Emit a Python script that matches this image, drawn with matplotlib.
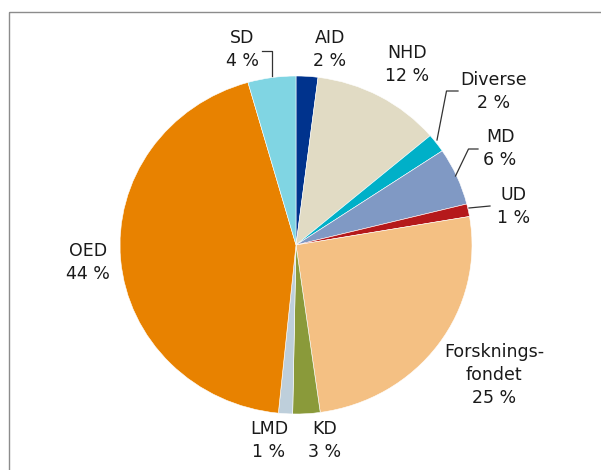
import matplotlib
matplotlib.use("Agg")
import matplotlib.pyplot as plt
from matplotlib.patches import Rectangle

categories = ["AID", "NHD", "Diverse", "MD", "UD", "Forsknings-\nfondet", "KD", "LMD", "OED", "SD"]
values = [2.0, 11.8, 1.8, 5.5, 1.2, 25.5, 2.5, 1.3, 44.0, 4.4]
pct_labels = [2, 12, 2, 6, 1, 25, 3, 1, 44, 4]
colors = ["#00338D", "#E1DBC4", "#00B0C8", "#8099C4", "#B5191B", "#F4C083",
          "#8A9A3A", "#BECFDB", "#E88200", "#80D5E3"]

W, H = 601, 470
fig = plt.figure(figsize=(W / 100, H / 100), dpi=100)

# pie bounding box in pixels
left, right, top, bottom = 120, 472, 76, 414
ax = fig.add_axes([left / W, (H - bottom) / H, (right - left) / W, (bottom - top) / H])
ax.pie(values, colors=colors, startangle=90, counterclock=False,
       wedgeprops=dict(edgecolor="white", linewidth=0.4))
ax.set_aspect("auto")
ax.set_xlim(-1, 1)
ax.set_ylim(-1, 1)
ax.axis("off")

# overlay in pixel coordinates
ov = fig.add_axes([0, 0, 1, 1], zorder=5)
ov.set_xlim(0, W)
ov.set_ylim(H, 0)
ov.axis("off")
ov.patch.set_alpha(0)
ov.add_patch(Rectangle((8.5, 11.5), 700, 600, fill=False, edgecolor="#8c8c8c", linewidth=1))

label_pos = {
    "AID": (330, 38), "NHD": (407, 53), "Diverse": (494, 80), "MD": (500, 137),
    "UD": (514, 195), "Forsknings-\nfondet": (494, 352), "KD": (325, 429),
    "LMD": (269, 429), "OED": (88, 251), "SD": (242, 38),
}
line_h = 23
txtc = "#1a1a1a"
for cat, p in zip(categories, pct_labels):
    x, y = label_pos[cat]
    lines = cat.split("\n") + [f"{p} %"]
    for i, s in enumerate(lines):
        ov.text(x, y + i * line_h, s, ha="center", va="center", fontsize=12.5,
                color=txtc, family="DejaVu Sans")

# leader lines
leaders = [
    [(262, 51), (272, 51), (272, 76)],
    [(458, 91), (446.5, 91), (437, 140)],
    [(478, 149), (468.5, 149), (455.5, 176)],
    [(490, 206), (469, 208)],
]
for pts in leaders:
    xs, ys = zip(*pts)
    ov.plot(xs, ys, color="#333333", linewidth=0.9)

fig.savefig("out.png", dpi=100)
